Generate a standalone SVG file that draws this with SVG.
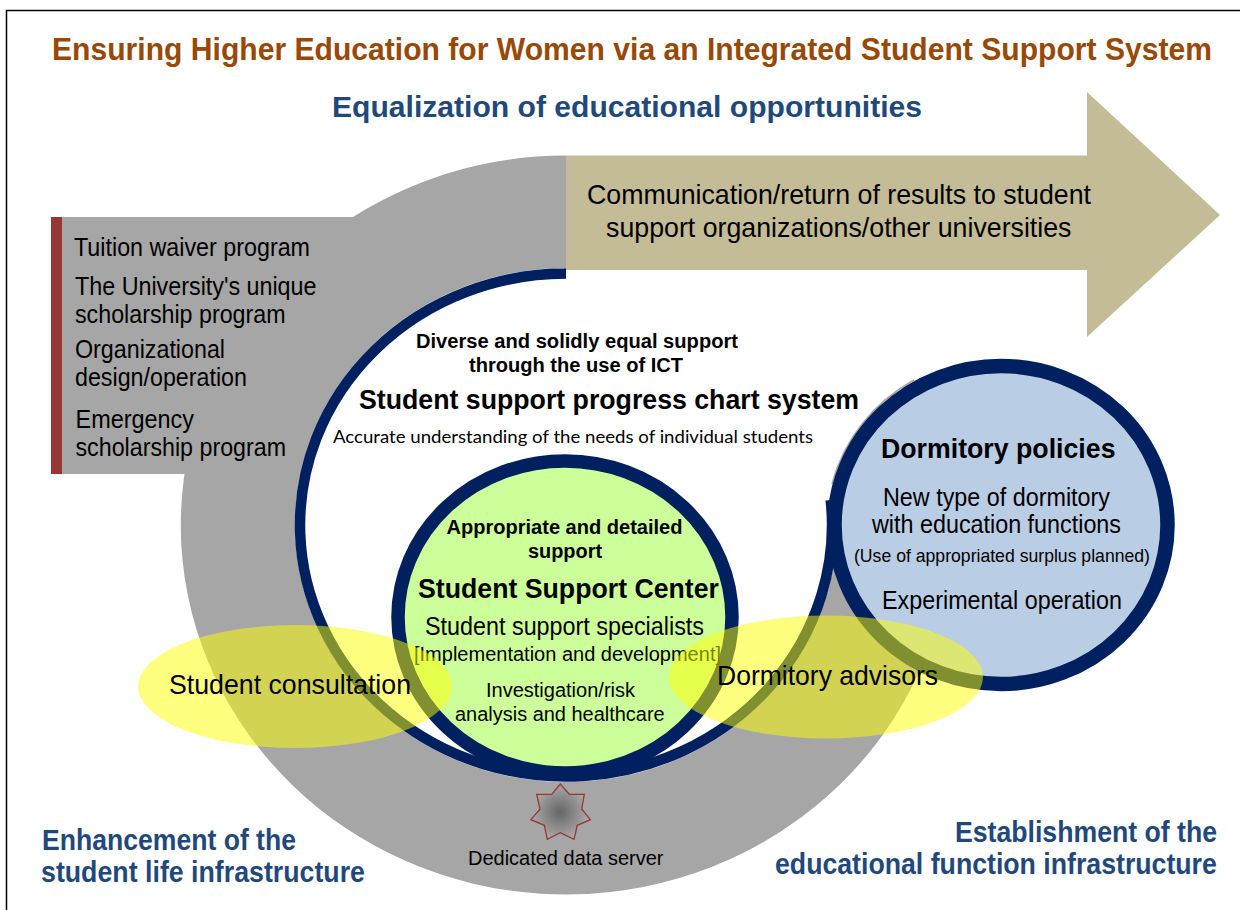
<svg xmlns="http://www.w3.org/2000/svg" width="1240" height="910" viewBox="0 0 1240 910">
<style>
text{font-family:"Liberation Sans",Arial,sans-serif;fill:#000}
.b{font-weight:bold}
.h{font-weight:bold;font-size:27px}
.title{font-weight:bold;font-size:30.500px;fill:#984807}
.blue{font-weight:bold;font-size:29px;fill:#1f497d}
.xl{font-size:28px}
.l{font-size:25px}
.s{font-size:20px}
.xs{font-size:19px}
.cal{font-family:"Lato","Noto Sans",sans-serif;font-size:18px}
.ring{fill:none;stroke:#002060}
.y{fill:#ffff00;fill-opacity:.5}
</style>
<defs>
<radialGradient id="starFill" gradientUnits="userSpaceOnUse" cx="560" cy="812" r="27">
<stop offset="0" stop-color="#666"/>
<stop offset="1" stop-color="#a6a6a6"/>
</radialGradient>
</defs>
<rect width="1240" height="910" fill="#fff"/>
<path d="M6.500 910V10.500H1240" fill="none" stroke="#000" stroke-width="1.500"/>
<g id="title">
<text class="title" x="52" y="60.300" textLength="1160" lengthAdjust="spacingAndGlyphs">Ensuring Higher Education for Women via an Integrated Student Support System</text>
<text class="blue" x="332" y="117" textLength="590" lengthAdjust="spacingAndGlyphs">Equalization of educational opportunities</text>
</g>
<g id="student-life-band">
<path d="M566 155.500A385 369.500 0 1 0 925 658L850 525H837A271 257 0 1 1 566 268Z" fill="#a6a6a6"/>
<path d="M566 217H62V474H184L300 474L350 340L360 300V217Z" fill="#a6a6a6" stroke="none"/>
</g>
<g id="scholarships">
<rect x="51" y="217" width="11" height="257" fill="#953735"/>
<text class="l" x="74" y="256" textLength="236" lengthAdjust="spacingAndGlyphs">Tuition waiver program</text>
<text class="l" x="75" y="294.500" textLength="241.500" lengthAdjust="spacingAndGlyphs">The University's unique</text>
<text class="l" x="75" y="322.500" textLength="210.500" lengthAdjust="spacingAndGlyphs">scholarship program</text>
<text class="l" x="75" y="358" textLength="150" lengthAdjust="spacingAndGlyphs">Organizational</text>
<text class="l" x="75" y="386" textLength="172" lengthAdjust="spacingAndGlyphs">design/operation</text>
<text class="l" x="75.500" y="428" textLength="118.500" lengthAdjust="spacingAndGlyphs">Emergency</text>
<text class="l" x="75.500" y="456" textLength="210.500" lengthAdjust="spacingAndGlyphs">scholarship program</text>
</g>
<g id="results-arrow">
<path d="M566 155.500H1087V92L1220 215L1087 337V270H566Z" fill="#c4bc96"/>
<text class="xl" x="587" y="204" textLength="504" lengthAdjust="spacingAndGlyphs">Communication/return of results to student</text>
<text class="xl" x="606" y="236.500" textLength="465.500" lengthAdjust="spacingAndGlyphs">support organizations/other universities</text>
</g>
<g id="progress-chart-system">
<path class="ring" stroke-width="10.500" d="M564 273.500H566A266 251.500 0 1 0 830.700 500"/>
<text class="b s" x="416" y="347.800" textLength="322" lengthAdjust="spacingAndGlyphs">Diverse and solidly equal support</text>
<text class="b s" x="469" y="371.500" textLength="214" lengthAdjust="spacingAndGlyphs">through the use of ICT</text>
<text class="h" x="359" y="409" textLength="500" lengthAdjust="spacingAndGlyphs">Student support progress chart system</text>
<text class="cal" x="333" y="443.300" textLength="480" lengthAdjust="spacingAndGlyphs">Accurate understanding of the needs of individual students</text>
</g>
<g id="student-support-center">
<ellipse class="ring" cx="565" cy="617" rx="167" ry="156" style="fill:#ccff99" stroke-width="13.500"/>
<text class="b s" x="446.500" y="533.500" textLength="236" lengthAdjust="spacingAndGlyphs">Appropriate and detailed</text>
<text class="b s" x="528" y="558" textLength="74" lengthAdjust="spacingAndGlyphs">support</text>
<text class="h" x="418" y="598" textLength="301" lengthAdjust="spacingAndGlyphs">Student Support Center</text>
<text class="l" x="425" y="635" textLength="279" lengthAdjust="spacingAndGlyphs">Student support specialists</text>
<text class="s" x="414" y="660.700" textLength="307" lengthAdjust="spacingAndGlyphs">[Implementation and development]</text>
<text class="s" x="486" y="697" textLength="149" lengthAdjust="spacingAndGlyphs">Investigation/risk</text>
<text class="s" x="455" y="721" textLength="209.700" lengthAdjust="spacingAndGlyphs">analysis and healthcare</text>
</g>
<g id="dormitory-policies">
<path d="M832 484A174 167 0 0 1 914 380" fill="none" stroke="#a6a6a6" stroke-width="1.500"/>
<ellipse class="ring" cx="1001" cy="525" rx="166.500" ry="159" style="fill:#b9cde5" stroke-width="14.500"/>
<text class="h" x="881" y="457.500" textLength="234.500" lengthAdjust="spacingAndGlyphs">Dormitory policies</text>
<text class="l" x="883" y="505.500" textLength="227" lengthAdjust="spacingAndGlyphs">New type of dormitory</text>
<text class="l" x="872" y="533" textLength="249" lengthAdjust="spacingAndGlyphs">with education functions</text>
<text class="xs" x="854" y="561.700" textLength="296" lengthAdjust="spacingAndGlyphs">(Use of appropriated surplus planned)</text>
<text class="l" x="882" y="608.500" textLength="240" lengthAdjust="spacingAndGlyphs">Experimental operation</text>
</g>
<g id="student-consultation">
<ellipse class="y" cx="295" cy="686.500" rx="157" ry="61.500"/>
<text class="xl" x="169" y="694.300" textLength="242" lengthAdjust="spacingAndGlyphs">Student consultation</text>
</g>
<g id="dormitory-advisors">
<ellipse class="y" cx="826" cy="677" rx="157" ry="61.500"/>
<text class="xl" x="717" y="685" textLength="221" lengthAdjust="spacingAndGlyphs">Dormitory advisors</text>
</g>
<g id="data-server">
<polygon points="560.300,784 569.300,794.300 584.300,794.300 581.700,809 590.300,819.700 577.300,825.300 574,839.300 560.300,832.700 547.300,839.300 544.300,825.300 531,819.700 540,809 536.700,794.300 551.700,794.300" fill="url(#starFill)" stroke="#953735" stroke-width="1.300"/>
<text class="s" x="468" y="865" textLength="195.500" lengthAdjust="spacingAndGlyphs">Dedicated data server</text>
</g>
<g id="corner-labels">
<text class="blue" x="42" y="850.300" textLength="254" lengthAdjust="spacingAndGlyphs">Enhancement of the</text>
<text class="blue" x="41" y="882.300" textLength="324" lengthAdjust="spacingAndGlyphs">student life infrastructure</text>
<text class="blue" x="955" y="841.800" textLength="262" lengthAdjust="spacingAndGlyphs">Establishment of the</text>
<text class="blue" transform="translate(775 873.800) scale(.9206 1)">educational function infrastructure</text>
</g>
</svg>
